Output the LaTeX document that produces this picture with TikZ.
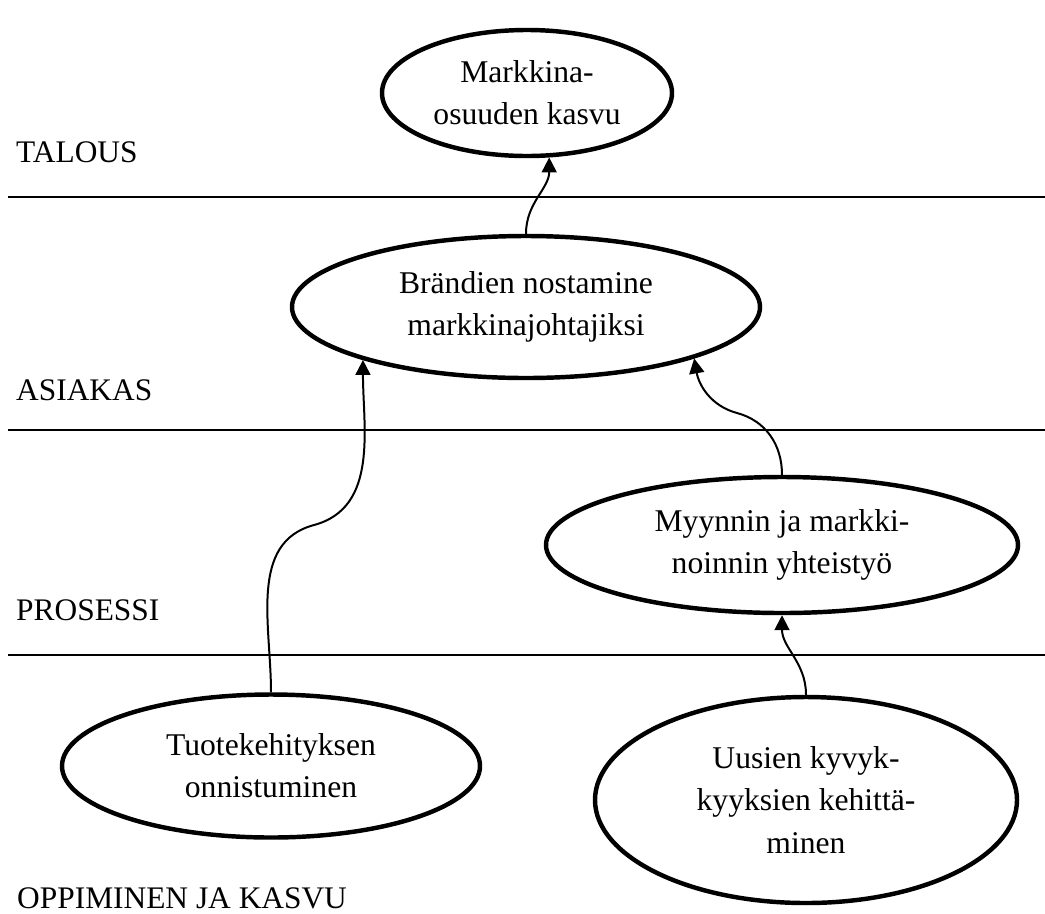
\documentclass[tikz,border=0pt]{standalone}
\usepackage{fontspec}
\setmainfont{Liberation Serif}
\usepackage{tikz}
\usetikzlibrary{arrows.meta, shapes.geometric}

\begin{document}
\begin{tikzpicture}[x=0.03cm, y=-0.03cm,
    goal/.style={ellipse, draw, line width=3.8pt, inner sep=0pt, align=center,
                 font=\fontsize{27}{36}\selectfont},
    level/.style={anchor=base west, inner sep=0pt, font=\fontsize{26.8}{36}\selectfont},
    link/.style={-{Triangle[width=0.45cm, length=0.45cm]}, line width=1.7pt},
    sep/.style={line width=1.7pt}
]
\useasboundingbox (0,0) rectangle (1045,913);

% perspective borders
\draw[sep] (8,197) -- (1045,197);
\draw[sep] (8,430) -- (1045,430);
\draw[sep] (8,655) -- (1045,655);

\node[level] (talous) at (16,162) {TALOUS};
\node[level] (asiakas) at (16,400) {ASIAKAS};
\node[level] (prosessi) at (16,620) {PROSESSI};
\node[level] (oppiminen) at (17,908) {OPPIMINEN JA KASVU};

\node[goal, minimum width=8.7cm, minimum height=3.78cm] (markkina) at (527,93)
    {Markkina-\\osuuden kasvu};
\node[goal, minimum width=14.04cm, minimum height=4.26cm] (brandi) at (526,307)
    {Brändien nostamine\\markkinajohtajiksi};
\node[goal, minimum width=14.16cm, minimum height=4.08cm] (myynti) at (782,545)
    {Myynnin ja markki-\\noinnin yhteistyö};
\node[goal, minimum width=12.54cm, minimum height=4.29cm] (tuote) at (271,766)
    {Tuotekehityksen\\onnistuminen};
\node[goal, minimum width=12.66cm, minimum height=6.18cm] (kyky) at (806,800)
    {Uusien kyvyk-\\kyyksien kehittä-\\minen};

\coordinate (k1) at (314,525);
\coordinate (k2) at (737,413);

\draw[link] (brandi.north) to[out=90, in=-90] (markkina.-71.4);
\draw[link] (tuote.north) to[out=90, in=195] (k1) to[out=15, in=-90] (brandi.-162.6);
\draw[link] (myynti.north) to[out=90, in=-15] (k2) to[out=165, in=-80] (brandi.-17.9);
\draw[link] (kyky.north) to[out=90, in=-90] (myynti.south);
\end{tikzpicture}
\end{document}
